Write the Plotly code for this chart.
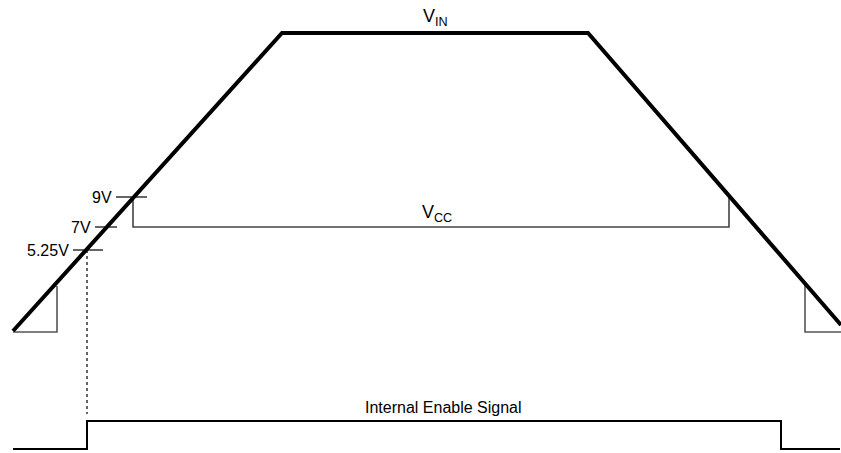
import plotly.graph_objects as go

# diagram coordinates (x: time, y: screen position, y axis reversed)
vin_x = [13, 282, 588, 841]
vin_y = [331, 33, 33, 325]

vcc_x = [133, 133, 729, 729]
vcc_y = [197, 227, 227, 197]

uvlo_left_x = [13, 57, 57]
uvlo_left_y = [332, 332, 286]
uvlo_right_x = [841, 805, 805]
uvlo_right_y = [332, 332, 283]

enable_x = [13, 87, 87, 781, 781, 840]
enable_y = [449, 449, 421, 421, 449, 449]

marker_x = [87, 87]
marker_y = [250, 414]

tick_labels = ["9V", "7V", "5.25V"]
tick_y = [197, 227, 250]
tick_x0 = [116, 95, 73]
tick_x1 = [147, 117, 103]

fig = go.Figure()

fig.add_trace(go.Scatter(x=uvlo_left_x, y=uvlo_left_y, mode='lines',
                         line=dict(color='#555555', width=1.6)))
fig.add_trace(go.Scatter(x=uvlo_right_x, y=uvlo_right_y, mode='lines',
                         line=dict(color='#555555', width=1.6)))
fig.add_trace(go.Scatter(x=vcc_x, y=vcc_y, mode='lines',
                         line=dict(color='#444444', width=1.6)))
fig.add_trace(go.Scatter(x=marker_x, y=marker_y, mode='lines',
                         line=dict(color='#555555', width=1.8, dash='dot')))
fig.add_trace(go.Scatter(x=enable_x, y=enable_y, mode='lines',
                         line=dict(color='black', width=2)))
fig.add_trace(go.Scatter(x=vin_x, y=vin_y, mode='lines',
                         line=dict(color='black', width=4)))

for lab, y, x0, x1 in zip(tick_labels, tick_y, tick_x0, tick_x1):
    fig.add_trace(go.Scatter(x=[x0, x1], y=[y, y], mode='lines',
                             line=dict(color='black', width=1.2)))
    fig.add_annotation(x=x0 - 2, y=y, text=lab, showarrow=False,
                       xanchor='right', yanchor='middle',
                       font=dict(size=16, color='black'))

fig.add_annotation(x=435, y=17, text="V<sub>IN</sub>", showarrow=False,
                   font=dict(size=18, color='black'))
fig.add_annotation(x=437, y=213, text="V<sub>CC</sub>", showarrow=False,
                   font=dict(size=18, color='black'))
fig.add_annotation(x=443, y=407, text="Internal Enable Signal", showarrow=False,
                   font=dict(size=16, color='black'))

fig.update_layout(
    width=841, height=453,
    margin=dict(l=0, r=0, t=0, b=0),
    plot_bgcolor='white', paper_bgcolor='white',
    showlegend=False,
    font=dict(family="Liberation Sans, Arial, sans-serif"),
    xaxis=dict(range=[0, 841], visible=False, fixedrange=True),
    yaxis=dict(range=[453, 0], visible=False, fixedrange=True),
)

fig.write_html("out.html", config={'displayModeBar': False},
               post_script="document.body.style.margin='0';document.body.style.overflow='hidden';")
